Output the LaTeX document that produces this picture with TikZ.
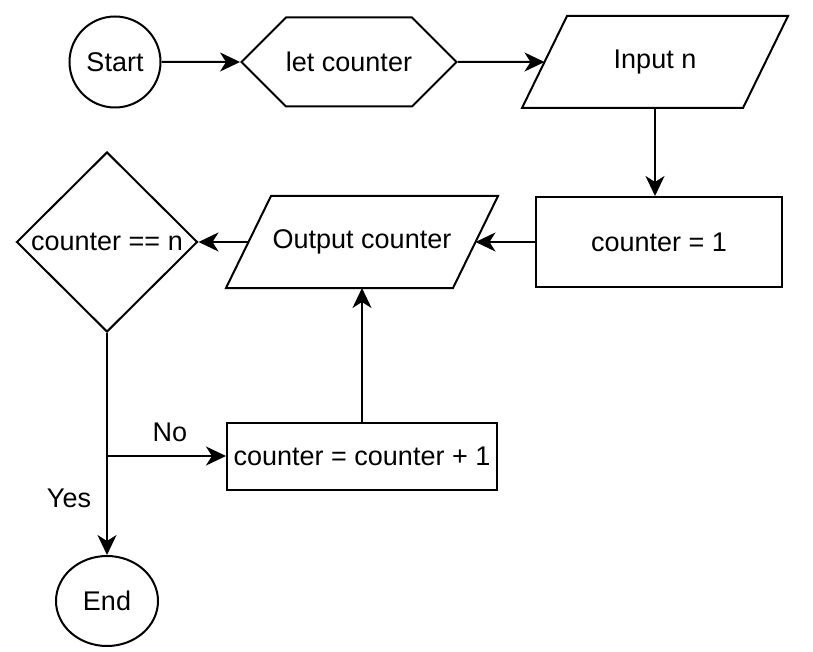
\documentclass[tikz,border=0pt]{standalone}
\usepackage{fontspec}
\setmainfont{Liberation Sans}
\usetikzlibrary{shapes.geometric,shapes.symbols,arrows.meta}

\begin{document}
\begin{tikzpicture}[x=1pt,y=-1pt,line width=2pt,
    font=\fontsize{27}{32}\selectfont,
    box/.style={draw,rectangle,inner sep=0pt},
    io/.style={rectangle,inner sep=0pt,minimum height=90pt},
    arr/.style={-{Stealth[length=20pt,width=19pt,inset=6pt]}}]
    \useasboundingbox (0,0) rectangle (813,652);
    % Terminals
    \node[draw,circle,minimum size=91pt,inner sep=0pt] (start) at (115,62) {Start};
    \node[draw,ellipse,minimum width=102pt,minimum height=90pt,inner sep=0pt] (stop) at (107,601) {End};
    % Top row
    \node[draw,signal,signal to=east and west,minimum width=208pt,minimum height=89pt,
      inner sep=0pt] (decl) at (349,62) {let counter};
    \node[io,minimum width=264pt] (input) at (655,62) {Input n};
    \draw ([xshift=45pt]input.north west) -- (input.north east)
      -- ([xshift=-45pt]input.south east) -- (input.south west) -- cycle;
    % Middle row
    \node[box,minimum width=246pt,minimum height=90pt] (init) at (659,242) {counter = 1};
    \node[io,minimum width=270pt] (output) at (362,242) {Output counter};
    \draw ([xshift=45pt]output.north west) -- (output.north east)
      -- ([xshift=-45pt]output.south east) -- (output.south west) -- cycle;
    \node[draw,diamond,minimum width=181pt,minimum height=180pt,inner sep=0pt,
      label=center:{counter == n}] (cond) at (107,242) {};
    % Increment
    \node[box,minimum width=270pt,minimum height=67pt] (inc) at (362,456) {counter = counter + 1};
    \coordinate (split) at (cond.south |- inc.west);
    % Flow
    \draw[arr] (start) -- (decl);
    \draw[arr] (decl) -- ([xshift=22.5pt]input.west);
    \draw[arr] (input.south) -- (input.south |- init.north);
    \draw[arr] (init) -- ([xshift=-22.5pt]output.east);
    \draw[arr] ([xshift=22.5pt]output.west) -- (cond);
    \draw[arr] (cond.south) -- (stop.north);
    \draw[arr] (split) -- (inc.west);
    \draw[arr] (inc.north) -- (output.south);
    % Branch labels
    \node (no) at (170,432) {No};
    \node (yes) at (69,498) {Yes};
\end{tikzpicture}
\end{document}
